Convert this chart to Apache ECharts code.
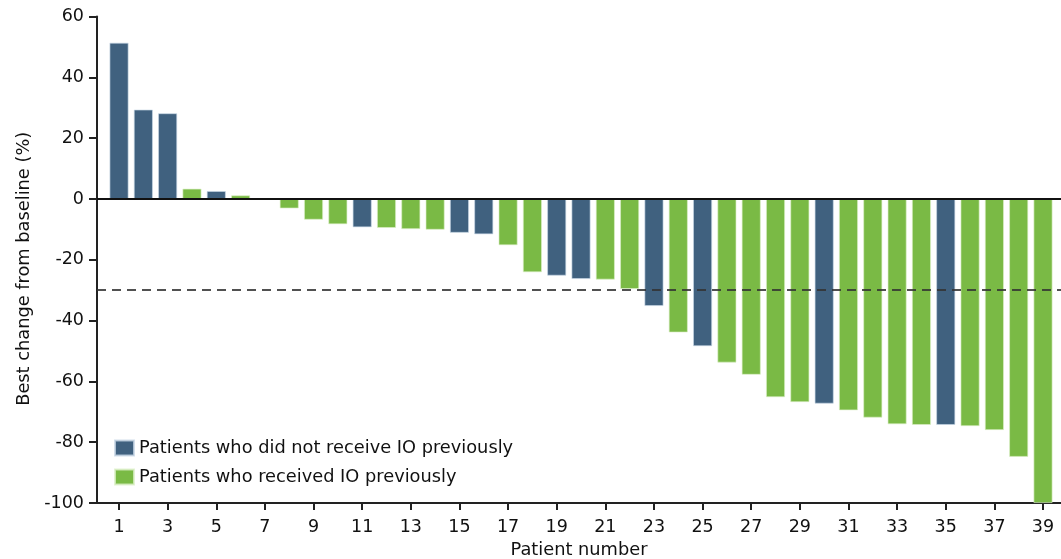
<!DOCTYPE html>
<html>
<head>
<meta charset="utf-8">
<script src="https://cdn.jsdelivr.net/npm/echarts@6/dist/echarts.min.js"></script>
<style>html,body{margin:0;padding:0;background:#fff}#c{width:1061px;height:559px}</style>
</head>
<body>
<div id="c"></div>
<script>
// Patient numbers 1..39
const patients = [1,2,3,4,5,6,7,8,9,10,11,12,13,14,15,16,17,18,19,20,21,22,23,24,25,26,27,28,29,30,31,32,33,34,35,36,37,38,39];
// Best change from baseline (%)
const changes = [51.4,29.4,28.2,3.4,2.6,1.2,0,-3.1,-6.8,-8.3,-9.3,-9.5,-9.9,-10.1,-11.1,-11.6,-15.2,-24.1,-25.2,-26.3,-26.5,-29.6,-35.2,-43.9,-48.4,-53.8,-57.8,-65.2,-66.8,-67.3,-69.5,-71.9,-74.1,-74.3,-74.3,-74.7,-76.0,-84.8,-100];
// 1 = received IO previously, 0 = did not
const priorIO = [0,0,0,1,0,1,1,1,1,1,0,1,1,1,0,0,1,1,0,0,1,1,0,1,0,1,1,1,1,0,1,1,1,1,0,1,1,1,1];
const seriesNames = ['Patients who did not receive IO previously','Patients who received IO previously'];
const xTickValues = [1,3,5,7,9,11,13,15,17,19,21,23,25,27,29,31,33,35,37,39];
const threshold = -30;

const colors = ['#40617f','#7aba45'];
const dataNo = [], dataYes = [];
patients.forEach((p,i)=>{ (priorIO[i] ? dataYes : dataNo).push([p, changes[i]]); });

const chart = echarts.init(document.getElementById('c'), null, {renderer:'canvas'});
const font = 'DejaVu Sans, Liberation Sans, Arial, sans-serif';
const txt = '#111';
chart.setOption({
  animation:false,
  textStyle:{fontFamily:font},
  grid:{left:97,right:0,top:16.6,bottom:56,containLabel:false,outerBoundsMode:'none'},
  legend:{
    orient:'vertical', left:114, top:439, padding:0, itemWidth:19, itemHeight:15, itemGap:11,
    icon:'rect',
    textStyle:{fontSize:17.8,color:txt,fontFamily:font,lineHeight:18},
    data:seriesNames
  },
  xAxis:{
    type:'value', min:0.094, max:39.74,
    name:'Patient number', nameLocation:'middle', nameGap:36,
    nameTextStyle:{fontSize:17.8,color:txt},
    axisLine:{show:true,onZero:false,lineStyle:{color:'#222',width:2}},
    axisTick:{show:true,customValues:xTickValues,length:7,lineStyle:{color:'#222',width:2}},
    axisLabel:{customValues:xTickValues,fontSize:17.5,color:txt,margin:15},
    splitLine:{show:false}
  },
  yAxis:{
    type:'value', min:-100, max:60, interval:20,
    name:'Best change from baseline (%)', nameLocation:'middle', nameGap:62,
    nameTextStyle:{fontSize:17.8,color:txt,padding:[0,18,0,0]},
    axisLine:{show:true,lineStyle:{color:'#222',width:2}},
    axisTick:{show:true,length:8,lineStyle:{color:'#222',width:2}},
    axisLabel:{fontSize:17.5,color:txt,margin:13},
    splitLine:{show:false}
  },
  series:[
    {
      name:seriesNames[0], type:'bar', data:dataNo, barWidth:19, barGap:'-100%',
      itemStyle:{color:colors[0],borderColor:'rgba(200,215,230,0.8)',borderWidth:0.8},
      z:2
    },
    {
      name:seriesNames[1], type:'bar', data:dataYes, barWidth:19, barGap:'-100%',
      itemStyle:{color:colors[1],borderColor:'rgba(220,240,200,0.8)',borderWidth:0.8},
      z:2,
      markLine:{
        silent:true, symbol:'none', label:{show:false}, z:5,
        data:[
          {yAxis:0, lineStyle:{color:'#111',width:2,type:'solid'}},
          {yAxis:threshold, lineStyle:{color:'#333',width:2,type:[9,6],opacity:0.85}}
        ]
      }
    }
  ]
});
</script>
</body>
</html>
